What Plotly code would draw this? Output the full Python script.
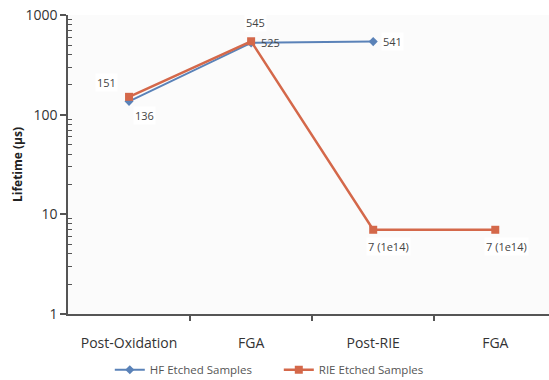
import math
import plotly.graph_objects as go

stages = ["Post-Oxidation", "FGA", "Post-RIE", "FGA"]
hf_values = [136, 525, 541]
rie_values = [151, 545, 7, 7]
hf_labels = ["136", "525", "541"]
rie_labels = ["151", "545", "7 (1e14)", "7 (1e14)"]

HF_COLOR = "#5a82b8"
RIE_COLOR = "#d4684a"
FONT = "Open Sans"

x_hf = list(range(len(hf_values)))
x_rie = list(range(len(rie_values)))

fig = go.Figure()
fig.add_trace(go.Scatter(
    x=x_hf, y=hf_values, mode="lines+markers", name="HF Etched Samples",
    line=dict(color=HF_COLOR, width=2),
    marker=dict(symbol="diamond", size=7, color=HF_COLOR),
))
fig.add_trace(go.Scatter(
    x=x_rie, y=rie_values, mode="lines+markers", name="RIE Etched Samples",
    line=dict(color=RIE_COLOR, width=2.5),
    marker=dict(symbol="square", size=8, color=RIE_COLOR),
))

hf_offsets = [(15, 14), (8, 0), (8, 0)]
hf_anchor = ["center", "left", "left"]
rie_offsets = [(-23, -14), (4, -19), (15, 17), (11, 17)]

for i, (v, t) in enumerate(zip(hf_values, hf_labels)):
    dx, dy = hf_offsets[i]
    fig.add_annotation(x=x_hf[i], y=math.log10(v), text=t, showarrow=False,
                       xshift=dx, yshift=-dy, xanchor=hf_anchor[i],
                       font=dict(family=FONT, size=11, color="#444"),
                       bgcolor="white" if i != 1 else None)
for i, (v, t) in enumerate(zip(rie_values, rie_labels)):
    dx, dy = rie_offsets[i]
    fig.add_annotation(x=x_rie[i], y=math.log10(v), text=t, showarrow=False,
                       xshift=dx, yshift=-dy,
                       font=dict(family=FONT, size=11, color="#444"),
                       bgcolor="white")

minor_y = [m * 10 ** d for d in range(3) for m in range(2, 10)]

fig.update_layout(
    width=549, height=380,
    margin=dict(l=68, r=0, t=15, b=66, autoexpand=False),
    paper_bgcolor="white",
    plot_bgcolor="#fbfbfb",
    font=dict(family=FONT, color="#333"),
    showlegend=True,
    legend=dict(orientation="h", xref="container", yref="container",
                x=0.2, y=0.027, xanchor="left", yanchor="middle",
                font=dict(family=FONT, size=11.5, color="#555"),
                itemwidth=30, entrywidth=124, entrywidthmode="pixels",
                bgcolor="rgba(0,0,0,0)"),
)
fig.update_xaxes(
    range=[-0.5, 3.44],
    tickvals=x_rie, ticktext=stages,
    ticks="", showgrid=False, zeroline=False, automargin=False,
    showline=True, linecolor="#555", linewidth=1.5,
    tickfont=dict(family=FONT, size=14, color="#333"),
    ticklabelstandoff=15,
    minor=dict(tickvals=[0.5, 1.5, 2.5], ticks="outside", ticklen=5,
               tickcolor="#555", tickwidth=1.5, showgrid=False),
)
fig.update_yaxes(
    type="log", range=[0, 3], automargin=False,
    tickvals=[1, 10, 100, 1000], ticktext=["1", "10", "100", "1000"],
    ticks="outside", ticklen=6, tickcolor="#555", tickwidth=1.5,
    showgrid=False, zeroline=False,
    showline=True, linecolor="#555", linewidth=1.5,
    tickfont=dict(family=FONT, size=14, color="#333"),
    minor=dict(tickvals=minor_y, ticks="inside", ticklen=4, tickcolor="#555",
               tickwidth=1, showgrid=False),
    title=dict(text="<b>Lifetime (µs)</b>", font=dict(family=FONT, size=12, color="#222"),
               standoff=0),
)

fig.write_html("out.html")
